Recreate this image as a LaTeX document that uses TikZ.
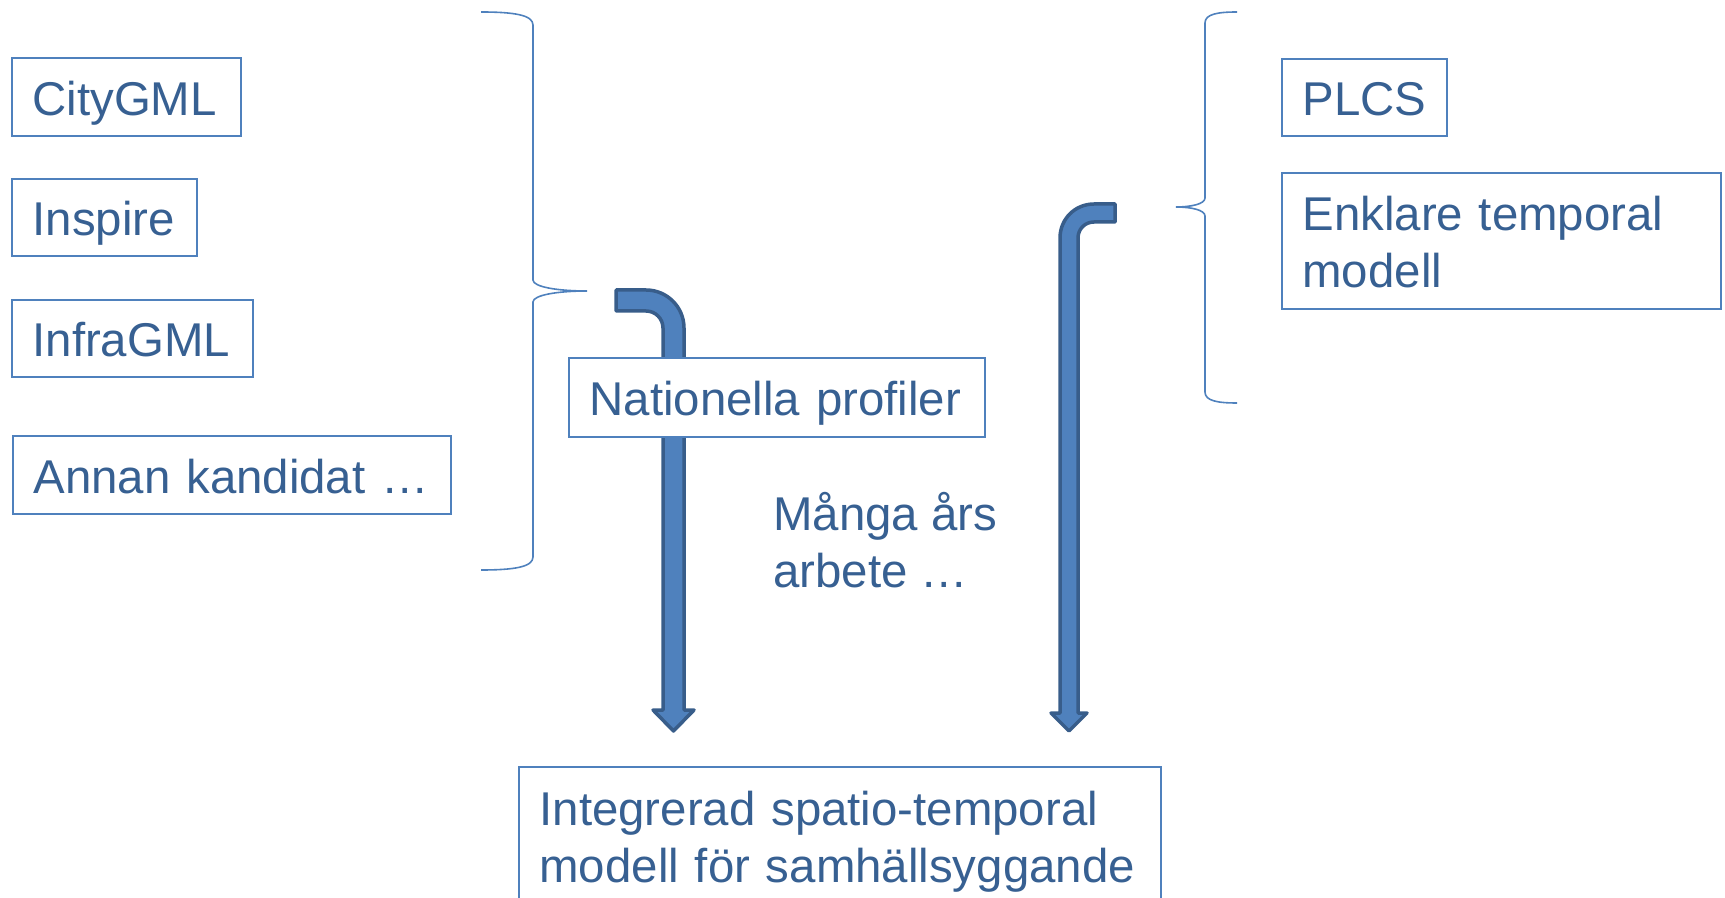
\documentclass[tikz,border=0pt]{standalone}
\usepackage{fontspec}
\setmainfont{Liberation Sans}
\definecolor{txtblue}{HTML}{376092}
\definecolor{boxblue}{HTML}{4F81BD}
\definecolor{arrowfill}{HTML}{4F81BD}
\definecolor{arrowline}{HTML}{385D8A}
% struts that fix the first baseline and the last depth of every box text
\newcommand\topstrut{\rule{0pt}{23.5pt}}
\newcommand\botstrut{\rule[-5.2pt]{0pt}{5.2pt}}
\begin{document}
\begin{tikzpicture}[x=0.5pt,y=-0.5pt,
  txt/.style={text=txtblue, font=\fontsize{23.7pt}{28.5pt}\selectfont},
  boxline/.style={txt, rectangle, draw=boxblue, line width=0.8pt, fill=white,
    inner xsep=10.25pt, inner ysep=0pt, align=left,
    execute at begin node=\topstrut, execute at end node=\botstrut},
  brace/.style={draw=boxblue, line width=0.8pt},
  blockarrow/.style={fill=arrowfill, draw=arrowline, line width=1.75pt, line join=round}]
\useasboundingbox (0,0) rectangle (1725,898);

% curly braces gathering the candidate models
\draw[brace] (481,12) .. controls (514,12) and (533,15) .. (533,25)
  -- (533,280) .. controls (533,287) and (558,291) .. (587,291)
  .. controls (558,291) and (533,295) .. (533,302)
  -- (533,557) .. controls (533,567) and (514,570) .. (481,570);
\coordinate (ltip) at (587,291);
\draw[brace] (1237,12) .. controls (1218,12) and (1205,14) .. (1205,23)
  -- (1205,198) .. controls (1205,204) and (1191,207) .. (1176,207)
  .. controls (1191,207) and (1205,210) .. (1205,216)
  -- (1205,392) .. controls (1205,401) and (1218,403) .. (1237,403);
\coordinate (rtip) at (1176,207);

% bent block arrows leading down to the integrated model
\draw[blockarrow] (616,290) -- (646,290)
  .. controls (667,290) and (684,307) .. (684,328)
  -- (684,710) -- (694,710) -- (673.5,731) -- (653,710) -- (663,710)
  -- (663,328) .. controls (663,318.6) and (655.4,311) .. (646,311)
  -- (616,311) -- cycle;
\draw[blockarrow] (1115,204) -- (1094,204)
  .. controls (1075,204) and (1060,219) .. (1060,238)
  -- (1060,713) -- (1051,713) -- (1069,731) -- (1087,713) -- (1078,713)
  -- (1078,238) .. controls (1078,229) and (1085,222) .. (1094,222)
  -- (1115,222) -- cycle;

% candidate models
\node[boxline, text width=94pt, minimum height=39pt] (city) at (126.5,97) {CityGML};
\node[boxline, text width=72pt, minimum height=38.5pt] (inspire) at (104.5,217.5) {Inspire};
\node[boxline, text width=100pt, minimum height=38.5pt] (infra) at (132.5,338.5) {InfraGML};
\node[boxline, text width=198.5pt, minimum height=39pt] (annan) at (232,475) {Annan~kandidat~…};
\node[boxline, text width=187.5pt, minimum height=39.5pt] (nat) at (777,397.5) {Nationella~profiler};
\node[boxline, text width=62pt, minimum height=38.5pt] (plcs) at (1364.5,97.5) {PLCS};
\node[boxline, text width=199pt, minimum height=68pt] (enk) at (1501.5,241) {Enklare~temporal\\modell};
\node[boxline, text width=300.5pt, minimum height=69pt] (integ) at (840,836) {Integrerad~spatio-temporal\\modell~för~samhällsyggande};

% free text between the arrows (anchored on its last baseline)
\node[txt, align=left, inner sep=0pt, anchor=base west] (work) at (773,588) {Många~års\\arbete~…};
\end{tikzpicture}
\end{document}
